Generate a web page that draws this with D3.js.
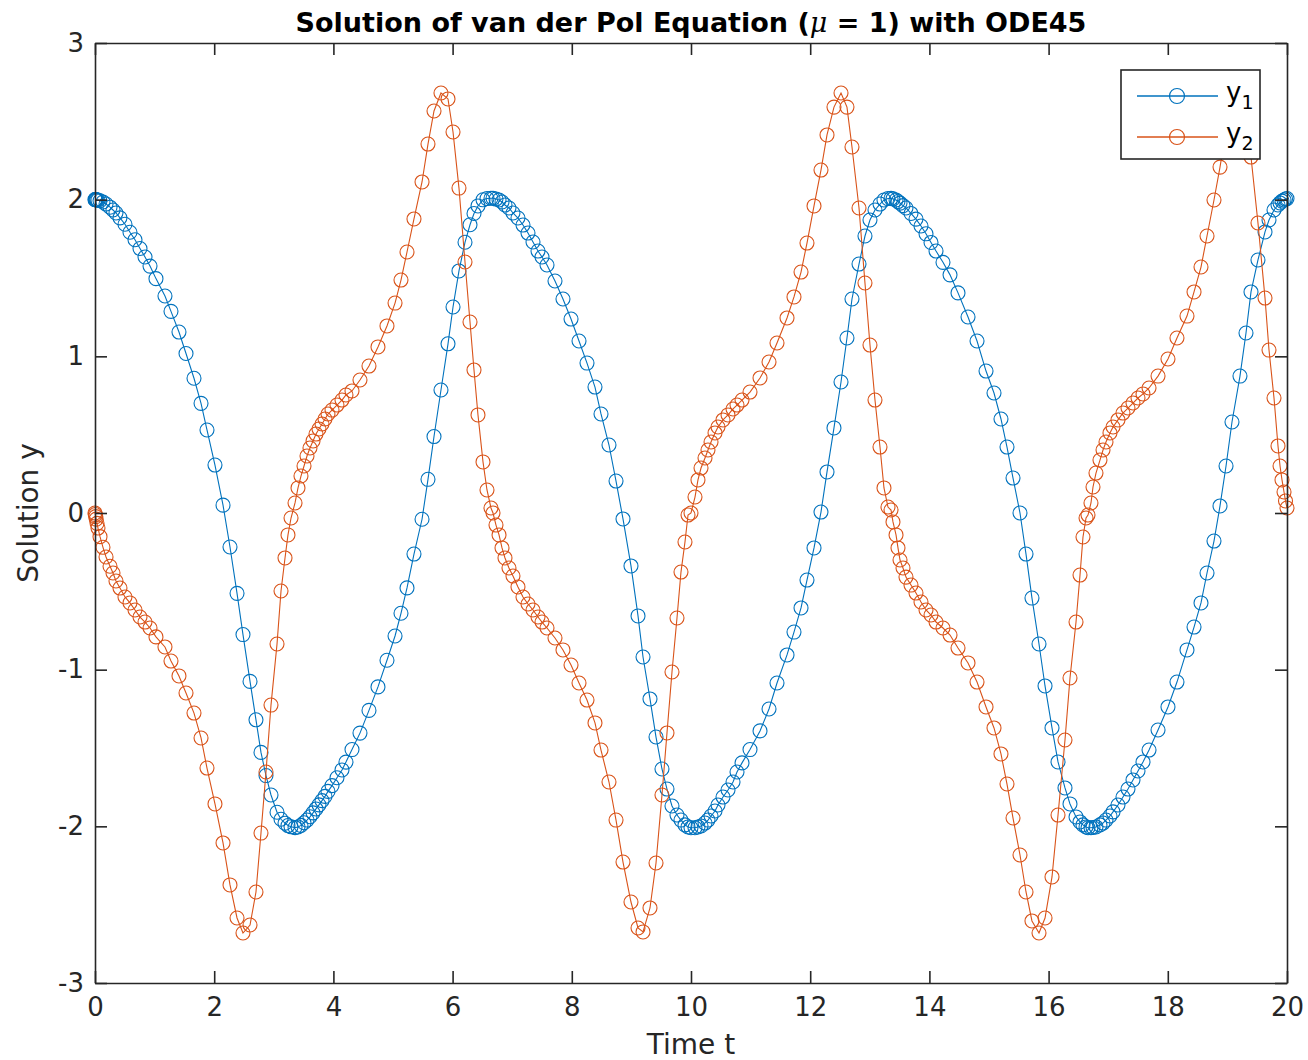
<!DOCTYPE html>
<html>
<head>
<meta charset="utf-8">
<script src="https://cdn.jsdelivr.net/npm/d3@7"></script>
<style>
  html, body { margin: 0; padding: 0; background: #ffffff; }
  svg { display: block; }
</style>
</head>
<body>
<svg id="chart" width="1308" height="1060"></svg>
<script>
// ---- data (ode45 output, van der Pol, mu = 1) ----
const timeT = [
  0, 0.005, 0.012, 0.020, 0.034, 0.050, 0.084, 0.134, 0.185, 0.252,
  0.302, 0.352, 0.419, 0.503, 0.587, 0.671, 0.755, 0.839, 0.923, 1.023,
  1.174, 1.275, 1.409, 1.527, 1.661, 1.779, 1.879, 2.013, 2.148, 2.265,
  2.383, 2.483, 2.601, 2.701, 2.785, 2.869, 2.953, 3.054, 3.121, 3.188, 3.238,
  3.289, 3.356, 3.406, 3.456, 3.507, 3.557, 3.607, 3.658, 3.708, 3.758,
  3.809, 3.859, 3.909, 3.977, 4.060, 4.144, 4.211, 4.312, 4.446, 4.597,
  4.748, 4.899, 5.034, 5.134, 5.235, 5.352, 5.487, 5.587, 5.688, 5.805,
  5.923, 6.007, 6.107, 6.208, 6.292, 6.359, 6.426, 6.510, 6.577, 6.644,
  6.678, 6.728, 6.779, 6.829, 6.879, 6.946, 7.013, 7.097, 7.181, 7.265,
  7.349, 7.433, 7.500, 7.584, 7.718, 7.852, 7.987, 8.121, 8.255, 8.389,
  8.490, 8.624, 8.742, 8.859, 8.993, 9.111, 9.195, 9.312, 9.413, 9.513,
  9.597, 9.681, 9.765, 9.832, 9.899, 9.950,
  10.000, 10.067, 10.117, 10.168, 10.235, 10.285, 10.336, 10.403, 10.453, 10.537,
  10.621, 10.705, 10.772, 10.856, 10.990, 11.158, 11.309, 11.443, 11.611, 11.728,
  11.846, 11.946, 12.064, 12.181, 12.282, 12.399, 12.517, 12.617, 12.701, 12.819,
  12.919, 13.003, 13.087, 13.171, 13.238, 13.305,
  13.356, 13.389, 13.440, 13.473, 13.507, 13.557, 13.607, 13.691, 13.775, 13.859,
  13.943, 14.027, 14.111, 14.228, 14.346, 14.480, 14.648, 14.799, 14.950, 15.084,
  15.201, 15.302, 15.403, 15.520, 15.621, 15.721, 15.839, 15.940, 16.057, 16.158,
  16.275, 16.359, 16.460, 16.527, 16.577, 16.628,
  16.661, 16.711, 16.745, 16.795, 16.862, 16.913, 16.963, 17.030, 17.081, 17.164,
  17.248, 17.332, 17.416, 17.500, 17.584, 17.685, 17.836, 18.003, 18.154, 18.322,
  18.440, 18.557, 18.658, 18.775, 18.876, 18.977, 19.077, 19.211, 19.312, 19.396,
  19.513, 19.631, 19.698, 19.782, 19.849, 19.883, 19.916, 19.950, 19.975, 20.000
];

const y1Values = [
  2.000, 2.000, 2.000, 1.999, 1.998, 1.997, 1.993, 1.985, 1.972, 1.952,
  1.934, 1.915, 1.884, 1.843, 1.792, 1.744, 1.688, 1.634, 1.576, 1.496,
  1.385, 1.287, 1.155, 1.018, 0.860, 0.700, 0.530, 0.306, 0.050, -0.217,
  -0.513, -0.776, -1.075, -1.320, -1.528, -1.676, -1.800, -1.910, -1.955, -1.980, -1.995,
  -2.003, -2.008, -2.004, -1.994, -1.977, -1.960, -1.939, -1.914, -1.889, -1.863,
  -1.836, -1.809, -1.777, -1.740, -1.690, -1.640, -1.590, -1.510, -1.405, -1.260,
  -1.110, -0.940, -0.785, -0.640, -0.478, -0.262, -0.040, 0.215, 0.488, 0.785,
  1.080, 1.315, 1.545, 1.728, 1.840, 1.912, 1.960, 1.999, 2.007, 2.009,
  2.009, 2.004, 1.998, 1.985, 1.966, 1.947, 1.915, 1.883, 1.838, 1.787,
  1.730, 1.672, 1.634, 1.583, 1.481, 1.366, 1.238, 1.098, 0.957, 0.804,
  0.632, 0.434, 0.204, -0.038, -0.338, -0.657, -0.919, -1.187, -1.430, -1.634,
  -1.762, -1.870, -1.928, -1.960, -1.991, -2.004,
  -2.009, -2.009, -2.004, -1.998, -1.979, -1.960, -1.934, -1.902, -1.864, -1.813,
  -1.768, -1.717, -1.653, -1.595, -1.510, -1.391, -1.251, -1.085, -0.906, -0.760,
  -0.606, -0.428, -0.223, 0.006, 0.262, 0.543, 0.836, 1.117, 1.366, 1.589,
  1.768, 1.870, 1.934, 1.972, 1.998, 2.007,
  2.008, 2.005, 1.998, 1.988, 1.978, 1.962, 1.947, 1.912, 1.876, 1.832,
  1.782, 1.727, 1.672, 1.600, 1.520, 1.405, 1.251, 1.098, 0.906, 0.766,
  0.600, 0.421, 0.223, 0.000, -0.262, -0.543, -0.836, -1.104, -1.372, -1.589,
  -1.755, -1.857, -1.940, -1.972, -1.991, -2.004,
  -2.009, -2.009, -2.007, -2.004, -1.991, -1.979, -1.960, -1.934, -1.908, -1.864,
  -1.813, -1.762, -1.704, -1.647, -1.589, -1.513, -1.385, -1.238, -1.079, -0.874,
  -0.728, -0.574, -0.383, -0.179, 0.045, 0.300, 0.581, 0.874, 1.149, 1.411,
  1.615, 1.794, 1.870, 1.934, 1.966, 1.979, 1.991, 1.998, 2.004, 2.007
];

const y2Values = [
  0.000, -0.010, -0.023, -0.039, -0.066, -0.096, -0.151, -0.219, -0.281, -0.340,
  -0.383, -0.434, -0.479, -0.536, -0.574, -0.619, -0.664, -0.696, -0.734, -0.791,
  -0.855, -0.945, -1.040, -1.149, -1.277, -1.436, -1.628, -1.857, -2.106, -2.374,
  -2.585, -2.681, -2.630, -2.419, -2.043, -1.653, -1.226, -0.836, -0.498, -0.287, -0.140,
  -0.032, 0.064, 0.160, 0.236, 0.300, 0.364, 0.415, 0.460, 0.504, 0.536,
  0.568, 0.600, 0.632, 0.657, 0.689, 0.721, 0.753, 0.779, 0.849, 0.938,
  1.060, 1.194, 1.340, 1.487, 1.666, 1.877, 2.113, 2.355, 2.566, 2.681,
  2.643, 2.432, 2.074, 1.602, 1.219, 0.913, 0.626, 0.326, 0.147, 0.032,
  0.000, -0.077, -0.140, -0.223, -0.287, -0.351, -0.402, -0.472, -0.536, -0.581,
  -0.619, -0.664, -0.696, -0.734, -0.798, -0.874, -0.970, -1.085, -1.194, -1.340,
  -1.513, -1.717, -1.960, -2.228, -2.483, -2.649, -2.674, -2.521, -2.234, -1.800,
  -1.404, -1.015, -0.670, -0.377, -0.185, -0.013,
  0.000, 0.102, 0.211, 0.287, 0.351, 0.402, 0.453, 0.511, 0.549, 0.594,
  0.626, 0.664, 0.689, 0.721, 0.772, 0.862, 0.964, 1.085, 1.245, 1.379,
  1.538, 1.723, 1.960, 2.189, 2.413, 2.591, 2.681, 2.591, 2.336, 1.947,
  1.468, 1.072, 0.721, 0.421, 0.160, 0.038,
  0.019, -0.057, -0.140, -0.223, -0.300, -0.351, -0.409, -0.460, -0.511, -0.568,
  -0.619, -0.651, -0.696, -0.734, -0.779, -0.862, -0.957, -1.079, -1.238, -1.372,
  -1.538, -1.730, -1.947, -2.183, -2.419, -2.604, -2.681, -2.585, -2.323, -1.928,
  -1.449, -1.053, -0.696, -0.396, -0.153, -0.032,
  -0.013, 0.064, 0.166, 0.255, 0.338, 0.402, 0.453, 0.511, 0.549, 0.594,
  0.638, 0.670, 0.702, 0.734, 0.760, 0.798, 0.874, 0.983, 1.117, 1.257,
  1.411, 1.570, 1.768, 1.998, 2.208, 2.445, 2.617, 2.681, 2.604, 2.272,
  1.851, 1.372, 1.040, 0.734, 0.428, 0.300, 0.211, 0.134, 0.077, 0.032
];

const xTickValues = [0, 2, 4, 6, 8, 10, 12, 14, 16, 18, 20];
const yTickValues = [-3, -2, -1, 0, 1, 2, 3];
const yTickLabels = ["-3", "-2", "-1", "0", "1", "2", "3"];
const seriesNames = ["y1", "y2"];
const seriesSubscripts = ["1", "2"];
const seriesColors = ["#0072BD", "#D95319"];

const titleMain = "Solution of van der Pol Equation (";
const titleMu = "\u03BC";
const titleRest = " = 1) with ODE45";
const xLabelText = "Time t";
const yLabelText = "Solution y";

// ---- layout ----
const plot = { left: 95, right: 1287, top: 43, bottom: 983 };
const FONT = "'DejaVu Sans', Verdana, sans-serif";
const AXIS_COLOR = "#262626";
const TICK_LEN = 12;

const svg = d3.select("#chart");

const x = d3.scaleLinear().domain([0, 20]).range([plot.left, plot.right]);
const y = d3.scaleLinear().domain([-3, 3]).range([plot.bottom, plot.top]);

const n = Math.min(timeT.length, y1Values.length, y2Values.length);
const series = [y1Values, y2Values].map((vals, si) => ({
  name: seriesNames[si],
  color: seriesColors[si],
  points: d3.range(n).map(i => ({ t: timeT[i], v: vals[i] }))
}));

// plot background
svg.append("rect")
  .attr("x", plot.left).attr("y", plot.top)
  .attr("width", plot.right - plot.left).attr("height", plot.bottom - plot.top)
  .attr("fill", "#ffffff");

// data
svg.append("clipPath").attr("id", "plotclip")
  .append("rect")
  .attr("x", plot.left - 10).attr("y", plot.top - 10)
  .attr("width", plot.right - plot.left + 20).attr("height", plot.bottom - plot.top + 20);

const dataG = svg.append("g").attr("clip-path", "url(#plotclip)");
const line = d3.line().x(d => x(d.t)).y(d => y(d.v));

series.forEach(s => {
  const g = dataG.append("g");
  g.append("path")
    .datum(s.points)
    .attr("d", line)
    .attr("fill", "none")
    .attr("stroke", s.color)
    .attr("stroke-width", 1.1);
  g.selectAll("circle")
    .data(s.points)
    .join("circle")
    .attr("cx", d => x(d.t))
    .attr("cy", d => y(d.v))
    .attr("r", 7)
    .attr("fill", "none")
    .attr("stroke", s.color)
    .attr("stroke-width", 1.1);
});

// axes (box with inward ticks on all four sides)
function styleAxis(g) {
  g.selectAll(".domain").attr("stroke", AXIS_COLOR).attr("stroke-width", 1.6);
  g.selectAll(".tick line").attr("stroke", AXIS_COLOR).attr("stroke-width", 1.6);
  g.selectAll(".tick text")
    .attr("fill", AXIS_COLOR)
    .style("font-family", FONT)
    .style("font-size", "26px");
}

svg.append("g")
  .attr("transform", `translate(0,${plot.bottom})`)
  .call(d3.axisBottom(x).tickValues(xTickValues).tickFormat(d3.format("d"))
    .tickSizeInner(-TICK_LEN).tickSizeOuter(0).tickPadding(15))
  .call(styleAxis);

svg.append("g")
  .attr("transform", `translate(0,${plot.top})`)
  .call(d3.axisTop(x).tickValues(xTickValues).tickFormat("")
    .tickSizeInner(-TICK_LEN).tickSizeOuter(0))
  .call(styleAxis);

svg.append("g")
  .attr("transform", `translate(${plot.left},0)`)
  .call(d3.axisLeft(y).tickValues(yTickValues)
    .tickFormat((d, i) => yTickLabels[i])
    .tickSizeInner(-TICK_LEN).tickSizeOuter(0).tickPadding(11))
  .call(styleAxis);

svg.append("g")
  .attr("transform", `translate(${plot.right},0)`)
  .call(d3.axisRight(y).tickValues(yTickValues).tickFormat("")
    .tickSizeInner(-TICK_LEN).tickSizeOuter(0))
  .call(styleAxis);

// title
const title = svg.append("text")
  .attr("x", (plot.left + plot.right) / 2)
  .attr("y", 32)
  .attr("text-anchor", "middle")
  .attr("fill", "#000000")
  .style("font-family", FONT)
  .style("font-size", "27px")
  .style("font-weight", "bold");
title.append("tspan").text(titleMain);
title.append("tspan").style("font-style", "italic").style("font-weight", "normal")
  .style("font-family", "'DejaVu Serif', serif").text(titleMu);
title.append("tspan").text(titleRest);

// axis labels
svg.append("text")
  .attr("x", (plot.left + plot.right) / 2)
  .attr("y", 1054)
  .attr("text-anchor", "middle")
  .attr("fill", AXIS_COLOR)
  .style("font-family", FONT)
  .style("font-size", "28px")
  .text(xLabelText);

svg.append("text")
  .attr("transform", `translate(38,${(plot.top + plot.bottom) / 2}) rotate(-90)`)
  .attr("text-anchor", "middle")
  .attr("fill", AXIS_COLOR)
  .style("font-family", FONT)
  .style("font-size", "28px")
  .text(yLabelText);

// legend
const legend = { x: 1121, y: 70, w: 139, h: 89 };
const lg = svg.append("g");
lg.append("rect")
  .attr("x", legend.x).attr("y", legend.y)
  .attr("width", legend.w).attr("height", legend.h)
  .attr("fill", "#ffffff")
  .attr("stroke", AXIS_COLOR)
  .attr("stroke-width", 1.6);

series.forEach((s, i) => {
  const cy = legend.y + 26 + i * 41;
  lg.append("line")
    .attr("x1", legend.x + 16).attr("x2", legend.x + 97)
    .attr("y1", cy).attr("y2", cy)
    .attr("stroke", s.color).attr("stroke-width", 1.6);
  lg.append("circle")
    .attr("cx", legend.x + 56).attr("cy", cy).attr("r", 7.5)
    .attr("fill", "none").attr("stroke", s.color).attr("stroke-width", 1.2);
  const t = lg.append("text")
    .attr("x", legend.x + 105).attr("y", cy + 5)
    .attr("fill", "#000000")
    .style("font-family", FONT)
    .style("font-size", "26px");
  t.append("tspan").text("y");
  t.append("tspan").attr("dy", 8).style("font-size", "19px").text(seriesSubscripts[i]);
});
</script>
</body>
</html>
